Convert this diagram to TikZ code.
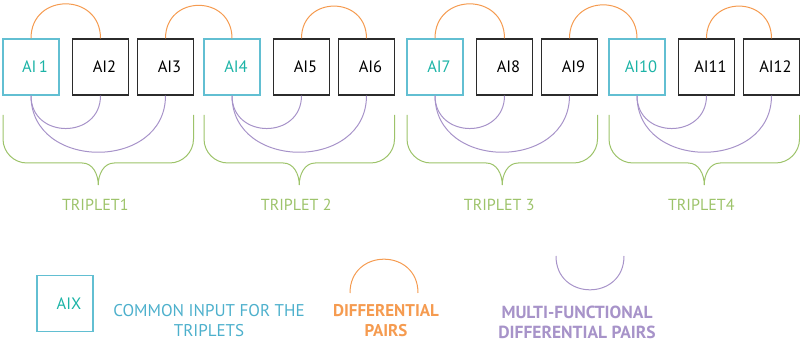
\documentclass[tikz,border=0pt]{standalone}
\usepackage{fontspec}
\setmainfont{PT Sans}
\usetikzlibrary{calc}
\definecolor{boxblue}{HTML}{62BFD2}
\definecolor{aiteal}{HTML}{1BB3A6}
\definecolor{legblue}{HTML}{4DB0CC}
\definecolor{orng}{HTML}{F59B50}
\definecolor{purp}{HTML}{A793C9}
\definecolor{grn}{HTML}{9DC36A}
\definecolor{dark}{HTML}{2B2B2B}
\begin{document}
\begin{tikzpicture}[x=1pt,y=1pt,
  box/.style={draw=dark,line width=1.2pt,minimum size=56pt,inner sep=0pt,
    font=\fontsize{16.5}{19}\selectfont,text=black,execute at begin node=\hspace*{8pt}},
  cbox/.style={box,draw=boxblue,text=aiteal},
  opair/.style={draw=orng,line width=1pt},
  mpair/.style={draw=purp,line width=1pt},
  brace/.style={draw=grn,line width=1pt},
  tlab/.style={text=grn,font=\fontsize{16}{18}\selectfont},
  legtext/.style={align=center,font=\fontsize{17}{20}\selectfont},
]
\useasboundingbox (0,0) rectangle (800,345);

% boxes
\node[cbox] (b1)  at (31,278)    {AI\kern2.5pt 1};
\node[box]  (b2)  at (100.5,278) {AI2};
\node[box]  (b3)  at (165.5,278) {AI3};
\node[cbox] (b4)  at (232,278)   {AI4};
\node[box]  (b5)  at (301.5,278) {AI5};
\node[box]  (b6)  at (366.5,278) {AI6};
\node[cbox] (b7)  at (435,278)   {AI7};
\node[box]  (b8)  at (504.5,278) {AI8};
\node[box]  (b9)  at (569.5,278) {AI9};
\node[cbox] (b10) at (637,278)   {AI10};
\node[box]  (b11) at (706.5,278) {AI11};
\node[box]  (b12) at (771.5,278) {AI12};

% differential pairs (orange)
\foreach \p/\q in {b1/b2,b3/b4,b5/b6,b7/b8,b9/b10,b11/b12}
  \draw[opair] (\p.north) to[out=90,in=90,looseness=1.7] (\q.north);

% multi-functional pairs (purple)
\foreach \p/\q/\r in {b1/b2/b3,b4/b5/b6,b7/b8/b9,b10/b11/b12}{
  \draw[mpair] (\p.south) to[out=-90,in=-90,looseness=1.62] (\q.south);
  \draw[mpair] (\p.south) to[out=-90,in=-90,looseness=1.44] (\r.south);
}

% braces and triplet labels
\foreach \x/\t in {3/TRIPLET1,204/TRIPLET 2,407/TRIPLET 3,609/TRIPLET4}{
  \coordinate (L) at (\x,230);
  \coordinate (R) at (\x+190.5,230);
  \coordinate (M) at (\x+95.25,160);
  \draw[brace] (L) -- ++(0,-24) arc[start angle=180,end angle=270,radius=24]
    -- ($(M)+(-16,22)$) to[out=0,in=90] (M) to[out=90,in=180] ($(M)+(16,22)$)
    -- ($(R)+(-24,-48)$) arc[start angle=270,end angle=360,radius=24] -- (R);
  \node[tlab] at ($(M)+(-3,-20)$) {\t};
}

% legend
\node[cbox] (lx) at (65,41.5) {AIX};
\node[legtext,text=legblue] (lt1) at (209,24) {COMMON INPUT FOR THE\\TRIPLETS};
\coordinate (oa) at (350,52);
\coordinate (ob) at (418,52);
\draw[opair] (oa) to[out=90,in=90,looseness=1.7] (ob);
\node[legtext,text=orng,font=\fontsize{17}{20}\selectfont\bfseries] (lt2) at (386,24) {DIFFERENTIAL\\PAIRS};
\coordinate (pa) at (556,89);
\coordinate (pb) at (624,89);
\draw[mpair] (pa) to[out=-90,in=-90,looseness=1.7] (pb);
\node[legtext,text=purp,font=\fontsize{17.5}{20}\selectfont\bfseries] (lt3) at (577,23) {MULTI-FUNCTIONAL\\DIFFERENTIAL PAIRS};
\end{tikzpicture}
\end{document}
